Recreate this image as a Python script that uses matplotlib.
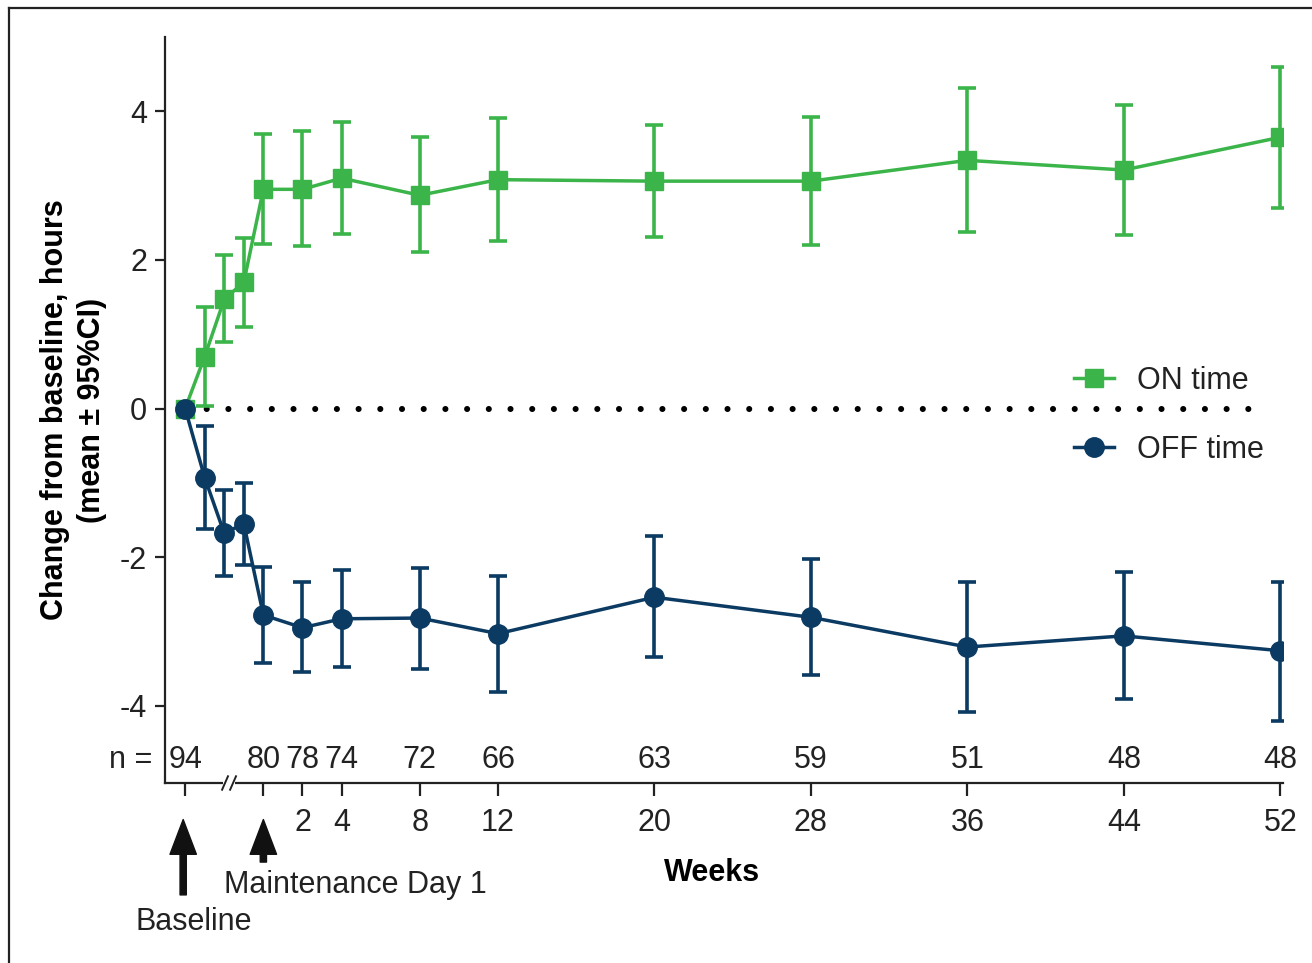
import matplotlib
matplotlib.use("Agg")
import matplotlib.pyplot as plt
from matplotlib.lines import Line2D

plt.rcParams["font.family"] = ["Liberation Sans", "DejaVu Sans"]
plt.rcParams["axes.unicode_minus"] = False

# visit times in weeks relative to maintenance day 1 (baseline + titration < 0)
weeks = [-4, -3, -2, -1, 0, 2, 4, 8, 12, 20, 28, 36, 44, 52]
week_ticks = [-4, 0, 2, 4, 8, 12, 20, 28, 36, 44, 52]
week_labels = ["", "", "2", "4", "8", "12", "20", "28", "36", "44", "52"]
n_weeks = [-4, 0, 2, 4, 8, 12, 20, 28, 36, 44, 52]
n_values = [94, 80, 78, 74, 72, 66, 63, 59, 51, 48, 48]

on_mean = [0.0, 0.70, 1.47, 1.70, 2.95, 2.95, 3.10, 2.87, 3.08, 3.06, 3.06, 3.34, 3.21, 3.65]
on_lo = [0.0, 0.04, 0.89, 1.10, 2.21, 2.19, 2.35, 2.11, 2.25, 2.31, 2.20, 2.37, 2.33, 2.70]
on_hi = [0.0, 1.37, 2.07, 2.30, 3.69, 3.74, 3.85, 3.65, 3.91, 3.82, 3.93, 4.32, 4.08, 4.60]

off_mean = [0.0, -0.93, -1.68, -1.55, -2.78, -2.95, -2.83, -2.82, -3.03, -2.54, -2.81, -3.21, -3.06, -3.26]
off_lo = [0.0, -1.62, -2.25, -2.10, -3.42, -3.55, -3.48, -3.51, -3.82, -3.35, -3.59, -4.08, -3.91, -4.20]
off_hi = [0.0, -0.23, -1.10, -1.00, -2.13, -2.33, -2.17, -2.15, -2.26, -1.71, -2.02, -2.33, -2.20, -2.33]

GREEN = "#3bb54a"
NAVY = "#0b3a62"
INK = "#222222"
FS = 22

fig = plt.figure(figsize=(13.12, 9.63), dpi=100)
ax = fig.add_axes([165 / 1312, 1 - 783 / 963, (1283 - 165) / 1312, (783 - 37) / 963])

# zero reference line (dotted)
ax.plot([-4, 51.5], [0, 0], color="black", linewidth=4.4,
        linestyle=(0, (0.001, 3.55)), dash_capstyle="round", zorder=1)


def _err(mean, lo, hi):
    return [[m - l for m, l in zip(mean, lo)], [h - m for m, h in zip(mean, hi)]]


ax.errorbar(weeks, on_mean, yerr=_err(on_mean, on_lo, on_hi), color=GREEN,
            marker="s", markersize=13, linewidth=2.5, elinewidth=2.6,
            capsize=6.5, capthick=2.6, zorder=3)
ax.errorbar(weeks, off_mean, yerr=_err(off_mean, off_lo, off_hi), color=NAVY,
            marker="o", markersize=14, linewidth=2.5, elinewidth=2.6,
            capsize=6.5, capthick=2.6, zorder=4)

ax.set_xlim(-5.03, 52.14)
ax.set_ylim(-5.04, 5.0)
ax.spines["top"].set_visible(False)
ax.spines["right"].set_visible(False)
for s in ("left", "bottom"):
    ax.spines[s].set_linewidth(1.6)
    ax.spines[s].set_color(INK)

ax.set_yticks([-4, -2, 0, 2, 4])
ax.set_yticklabels(["-4", "-2", "0", "2", "4"])
ax.set_xticks(week_ticks)
ax.set_xticklabels(week_labels)
ax.tick_params(axis="both", labelsize=FS, color=INK, width=1.6, labelcolor=INK)
ax.tick_params(axis="y", length=7, pad=6)
ax.tick_params(axis="x", length=9, pad=9)

ax.set_ylabel("Change from baseline, hours\n(mean ± 95%CI)", fontsize=FS,
              fontweight="bold", labelpad=9, linespacing=1.3)
ax.text(0.489, -0.121, "Weeks", transform=ax.transAxes, fontsize=FS,
        fontweight="bold", ha="center", va="center")

# n at risk row
xt = ax.get_xaxis_transform()
for w, n in zip(n_weeks, n_values):
    ax.text(w, 0.031, str(n), transform=xt, fontsize=FS, ha="center",
            va="center", color=INK)
ax.text(-5.7, 0.031, "n =", transform=xt, fontsize=FS, ha="right",
        va="center", color=INK, clip_on=False)

# axis break marks
ax.plot([-2.05, -1.45], [0, 0], transform=xt, color="white", linewidth=4,
        clip_on=False, zorder=5, solid_capstyle="butt")
for x0 in (-2.11, -1.70):
    ax.plot([x0, x0 + 0.3], [-0.009, 0.009], transform=xt, color=INK,
            linewidth=1.4, clip_on=False, zorder=6)

# arrows for baseline and maintenance day 1
arrow_kw = dict(facecolor="#111111", edgecolor="#111111", width=4.5,
                headwidth=19, headlength=25)
ax.annotate("", xy=(-4.1, -0.049), xytext=(-4.1, -0.150),
            xycoords=xt, textcoords=xt, arrowprops=arrow_kw)
ax.annotate("", xy=(0, -0.049), xytext=(0, -0.106),
            xycoords=xt, textcoords=xt, arrowprops=arrow_kw)
ax.text(-3.55, -0.186, "Baseline", transform=xt, fontsize=FS, ha="center",
        va="center", color=INK)
ax.text(-2.0, -0.137, "Maintenance Day 1", transform=xt, fontsize=FS,
        ha="left", va="center", color=INK)

handles = [
    Line2D([], [], color=GREEN, marker="s", markersize=13, linewidth=2.5),
    Line2D([], [], color=NAVY, marker="o", markersize=14, linewidth=2.5),
]
ax.legend(handles, ["ON time", "OFF time"], loc="center left",
          bbox_to_anchor=(0.813, 0.493), frameon=False, fontsize=FS,
          handlelength=1.3, handletextpad=0.75, labelspacing=1.28,
          borderpad=0, borderaxespad=0, labelcolor=INK)

# outer frame (left and top edges visible in the reference)
fx = 9 / 1312
fy = 1 - 8 / 963
fig.add_artist(Line2D([fx, fx], [0, fy], transform=fig.transFigure,
                      color=INK, linewidth=1.6))
fig.add_artist(Line2D([fx, 1], [fy, fy], transform=fig.transFigure,
                      color=INK, linewidth=1.6))

fig.savefig("out.png", dpi=100)
